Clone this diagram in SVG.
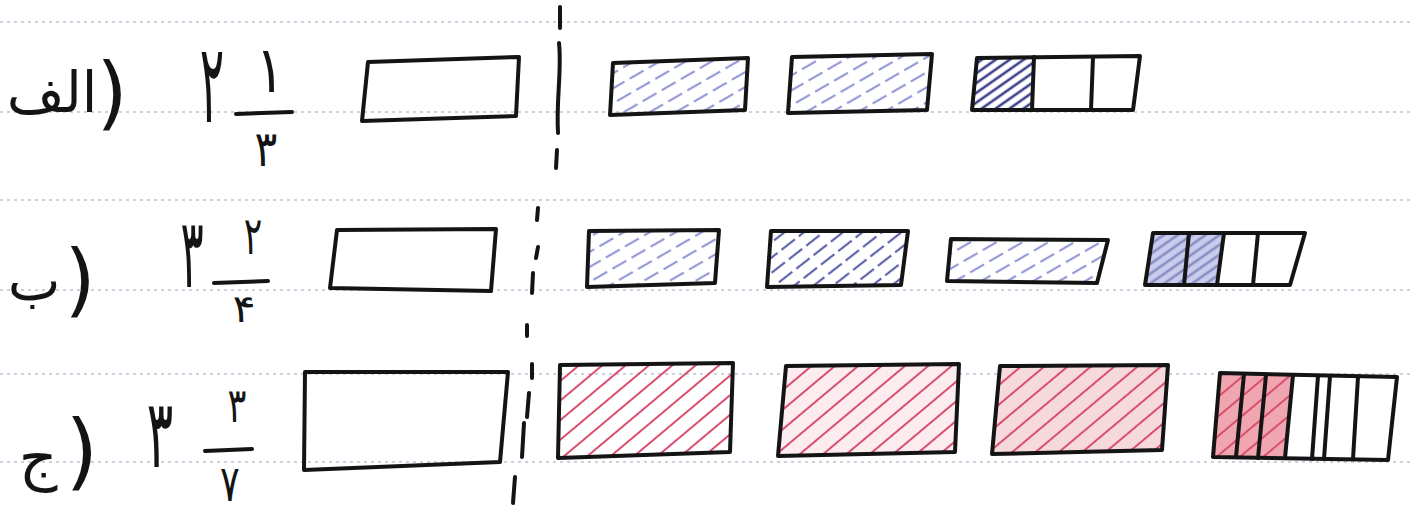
<svg xmlns="http://www.w3.org/2000/svg" width="1414" height="511" viewBox="0 0 1414 511">
<style>
.bx{fill:none;stroke:#141414;stroke-width:4;stroke-linejoin:round;stroke-linecap:round}
.dv{stroke:#141414;stroke-width:4;stroke-linecap:round;fill:none}
.dash{stroke:#141414;stroke-width:4;stroke-linecap:round;fill:none}
.rule{stroke:#b9c3d6;stroke-width:1.5;stroke-dasharray:3 4}
.t{font-family:"DejaVu Sans",sans-serif;fill:#141414}
.bar{stroke:#141414;stroke-width:4;stroke-linecap:round}
</style>
<defs>
<pattern id="hb" patternUnits="userSpaceOnUse" width="22" height="13" patternTransform="rotate(-30)"><line x1="0" y1="6" x2="16" y2="6" stroke="#959ad6" stroke-width="2.2"/></pattern>
<pattern id="hb2" patternUnits="userSpaceOnUse" width="22" height="12" patternTransform="rotate(-38)"><line x1="0" y1="6" x2="17" y2="6" stroke="#5e64a8" stroke-width="2.2"/></pattern>
<pattern id="hd" patternUnits="userSpaceOnUse" width="20" height="8" patternTransform="rotate(-35)"><line x1="0" y1="4" x2="20" y2="4" stroke="#3c418a" stroke-width="2.6"/></pattern>
<pattern id="hr" patternUnits="userSpaceOnUse" width="20" height="15" patternTransform="rotate(-40)"><line x1="0" y1="7" x2="20" y2="7" stroke="#d9506e" stroke-width="2"/></pattern>
</defs>
<rect width="1414" height="511" fill="#ffffff"/>
<g id="rules">
<line class="rule" x1="0" y1="22" x2="1414" y2="22"/>
<line class="rule" x1="0" y1="112" x2="1414" y2="112"/>
<line class="rule" x1="0" y1="200" x2="1414" y2="200"/>
<line class="rule" x1="0" y1="290" x2="1414" y2="290"/>
<line class="rule" x1="0" y1="374" x2="1414" y2="374"/>
<line class="rule" x1="0" y1="462" x2="1414" y2="462"/>
</g>
<g id="row-a">
<g id="a-label"><text class="t" x="52" y="112" font-size="56" text-anchor="middle">الف</text><text class="t" x="112" y="120" font-size="80" text-anchor="middle">)</text></g>
<g id="a-number"><text class="t" transform="translate(212,122) scale(0.6,1.45)" font-size="76" text-anchor="middle">۲</text><text class="t" transform="translate(270,92) scale(1,1.2)" font-size="54" text-anchor="middle">۱</text><line class="bar" x1="236" y1="114" x2="292" y2="112"/><text class="t" transform="translate(266,166) scale(0.85,1)" font-size="50" text-anchor="middle">۳</text></g>
<g id="a-whole"><polygon class="bx" points="368,62 519,57 516,116 362,121"/></g>
<g id="a-split"><path class="dash" d="M560,7 L560,28 M559,43 C562,70 556,100 558,133 M557,150 L556,168"/></g>
<g id="a-1"><polygon points="613,63 748,58 745,110 610,115" fill="url(#hb)"/><polygon class="bx" points="613,63 748,58 745,110 610,115"/></g>
<g id="a-2"><polygon points="792,57 932,54 927,110 788,113" fill="url(#hb)"/><polygon class="bx" points="792,57 932,54 927,110 788,113"/></g>
<g id="a-3"><polygon points="977,58 1033,57 1032,110 972,110" fill="url(#hd)"/><polygon class="bx" points="977,58 1140,56 1133,110 972,110"/><line class="dv" x1="1034" y1="57" x2="1032" y2="110"/><line class="dv" x1="1093" y1="57" x2="1091" y2="110"/></g>
</g>
<g id="row-b">
<g id="b-label"><text class="t" x="34" y="300" font-size="56" text-anchor="middle">ب</text><text class="t" x="80" y="307" font-size="80" text-anchor="middle">)</text></g>
<g id="b-number"><text class="t" transform="translate(192,287) scale(0.6,1.35)" font-size="72" text-anchor="middle">۳</text><text class="t" transform="translate(253,254) scale(0.75,1.15)" font-size="46" text-anchor="middle">۲</text><line class="bar" x1="214" y1="283" x2="268" y2="281"/><text class="t" transform="translate(244,322) scale(0.9,0.8)" font-size="48" text-anchor="middle">۴</text></g>
<g id="b-whole"><polygon class="bx" points="337,230 496,229 491,291 330,288"/></g>
<g id="b-split"><path class="dash" d="M538,208 L537,220 M538,247 L536,258 M533,273 L532,293 M527,325 L527,336"/></g>
<g id="b-1"><polygon points="589,231 719,230 715,283 587,287" fill="url(#hb)"/><polygon class="bx" points="589,231 719,230 715,283 587,287"/></g>
<g id="b-2"><polygon points="771,231 908,231 901,285 767,287" fill="url(#hb2)"/><polygon class="bx" points="771,231 908,231 901,285 767,287"/></g>
<g id="b-3"><polygon points="951,239 1108,240 1097,283 947,281" fill="url(#hb)"/><polygon class="bx" points="951,239 1108,240 1097,283 947,281"/></g>
<g id="b-4"><polygon points="1153,233 1223,233 1218,285 1145,285" fill="#c9cced"/><polygon points="1153,233 1223,233 1218,285 1145,285" fill="url(#hd)" opacity="0.45"/><polygon class="bx" points="1153,233 1305,233 1290,285 1145,285"/><line class="dv" x1="1189" y1="233" x2="1184" y2="285"/><line class="dv" x1="1224" y1="233" x2="1217" y2="285"/><line class="dv" x1="1258" y1="233" x2="1253" y2="285"/></g>
</g>
<g id="row-c">
<g id="c-label"><text class="t" x="38" y="478" font-size="60" text-anchor="middle">ج</text><text class="t" x="82" y="480" font-size="84" text-anchor="middle">)</text></g>
<g id="c-number"><text class="t" transform="translate(160,467) scale(0.65,1.25)" font-size="76" text-anchor="middle">۳</text><text class="t" transform="translate(237,422) scale(0.8,1.1)" font-size="44" text-anchor="middle">۳</text><line class="bar" x1="205" y1="451" x2="252" y2="449"/><text class="t" transform="translate(230,501) scale(0.8,1.1)" font-size="46" text-anchor="middle">۷</text></g>
<g id="c-whole"><polygon class="bx" points="305,372 508,372 500,462 304,470"/></g>
<g id="c-split"><path class="dash" d="M532,364 L532,378 M529,393 L527,417 M524,423 L522,457 M515,477 L513,503"/></g>
<g id="c-1"><polygon points="560,365 733,363 730,452 558,458" fill="url(#hr)"/><polygon class="bx" points="560,365 733,363 730,452 558,458"/></g>
<g id="c-2"><polygon points="786,366 959,364 955,452 778,456" fill="#fcecef"/><polygon points="786,366 959,364 955,452 778,456" fill="url(#hr)"/><polygon class="bx" points="786,366 959,364 955,452 778,456"/></g>
<g id="c-3"><polygon points="1000,366 1168,365 1162,450 992,454" fill="#f6d9dd"/><polygon points="1000,366 1168,365 1162,450 992,454" fill="url(#hr)"/><polygon class="bx" points="1000,366 1168,365 1162,450 992,454"/></g>
<g id="c-4"><polygon points="1220,373 1292,375 1286,458 1213,457" fill="#f0a6b0"/><polygon points="1220,373 1292,375 1286,458 1213,457" fill="url(#hr)"/><polygon class="bx" points="1220,373 1397,377 1388,460 1213,457"/><line class="dv" x1="1244" y1="374" x2="1236" y2="457"/><line class="dv" x1="1266" y1="375" x2="1258" y2="458"/><line class="dv" x1="1293" y1="375" x2="1285" y2="458"/><line class="dv" x1="1318" y1="376" x2="1312" y2="459"/><line class="dv" x1="1330" y1="376" x2="1324" y2="459"/><line class="dv" x1="1358" y1="377" x2="1353" y2="459"/></g>
</g>
</svg>
